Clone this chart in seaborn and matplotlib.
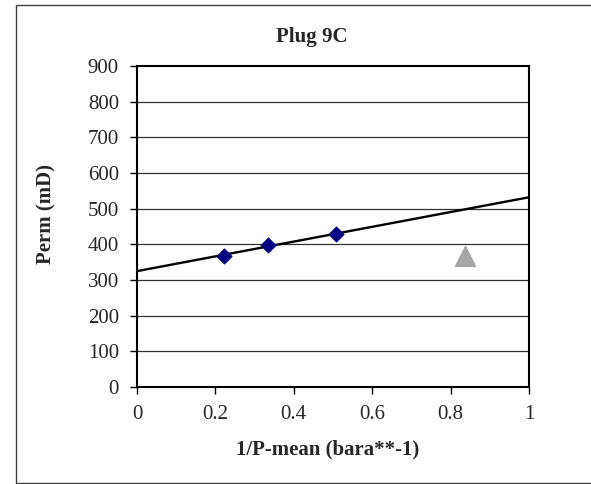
import seaborn as sns
import matplotlib.pyplot as plt
import matplotlib.patches as mpatches
import pandas as pd
import numpy as np

# Datos
inv_p = [0.222, 0.335, 0.507]
perm = [368, 399, 428]
extra_x = [0.836]
extra_y = [367]
x_ticks = [0, 0.2, 0.4, 0.6, 0.8, 1]
y_ticks = [0, 100, 200, 300, 400, 500, 600, 700, 800, 900]

df = pd.DataFrame({'x': inv_p, 'y': perm})
df_extra = pd.DataFrame({'x': extra_x, 'y': extra_y})

sns.set_style('white')
plt.rcParams['font.family'] = ['Liberation Serif', 'DejaVu Serif']

fig = plt.figure(figsize=(5.91, 4.84), dpi=100)
ax = fig.add_axes([0.2318, 0.2004, 0.8950 - 0.2318, 0.8636 - 0.2004])

# borde del gráfico
fig.patches.append(mpatches.Rectangle((16 / 591, 1 / 484), 1.2, 478 / 484,
                                      transform=fig.transFigure, fill=False,
                                      edgecolor='#404040', linewidth=1.0))

ax.set_xlim(0, 1)
ax.set_ylim(0, 900)

for yv in y_ticks[1:-1]:
    ax.axhline(yv, color='#333333', linewidth=0.9, zorder=0)

sns.regplot(data=df, x='x', y='y', ax=ax, ci=None, truncate=False,
            scatter=False, line_kws={'color': 'black', 'linewidth': 1.7})
sns.scatterplot(data=df, x='x', y='y', ax=ax, marker='D', s=60,
                color='#000080', edgecolor='#000080', zorder=4)
sns.scatterplot(data=df_extra, x='x', y='y', ax=ax, marker='^', s=200,
                color='#a6a6a6', edgecolor='#a6a6a6', zorder=4)

ax.set_xlim(0, 1)
ax.set_ylim(0, 900)
ax.set_xticks(x_ticks)
ax.set_xticklabels(['0', '0.2', '0.4', '0.6', '0.8', '1'])
ax.set_yticks(y_ticks)
ax.tick_params(axis='x', direction='out', length=5, width=1,
               labelsize=15, color='black', bottom=True, pad=8)
ax.tick_params(axis='y', direction='out', length=5, width=1,
               labelsize=15, color='black', left=True, pad=8)
for s in ax.spines.values():
    s.set_linewidth(1.5)
    s.set_color('black')

ax.set_title('Plug 9C', fontsize=15, fontweight='bold', x=0.446, y=1.075, pad=0)
ax.set_xlabel('1/P-mean (bara**-1)', fontsize=15, fontweight='bold')
ax.set_ylabel('Perm (mD)', fontsize=15, fontweight='bold')
ax.xaxis.set_label_coords(0.487, -0.1636)
ax.yaxis.set_label_coords(-0.205, 0.539)

plt.savefig('out.png', dpi=100)
